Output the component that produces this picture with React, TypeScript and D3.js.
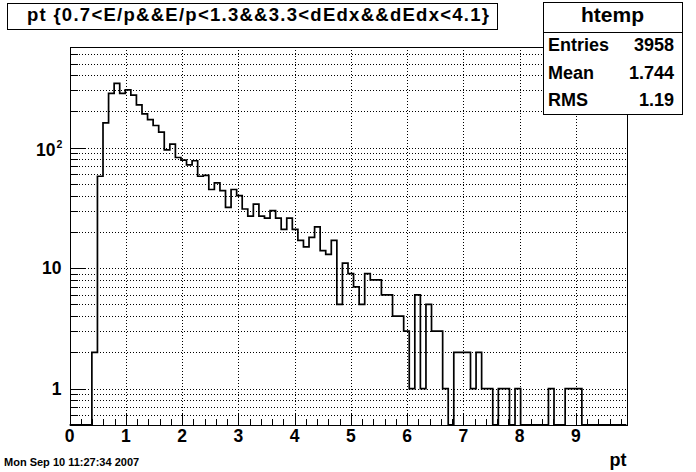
import React from "react";
import * as d3 from "d3";

// pt histogram, 100 bins from 0 to 9.9
const BIN_COUNTS = [
  0, 0, 0, 0, 2, 58, 161, 283, 342, 283,
  302, 274, 227, 191, 171, 153, 135, 96, 107, 83,
  79, 72, 78, 58, 59, 45, 51, 44, 32, 45,
  40, 31, 27, 34, 27, 26, 30, 26, 21, 26,
  21, 17, 15, 18, 22, 14, 13, 17, 5, 11,
  9, 7, 5, 9, 8, 8, 6, 6, 4, 4,
  3, 1, 6, 1, 5, 3, 3, 1, 0, 2,
  2, 2, 1, 2, 1, 1, 0, 1, 1, 0,
  1, 0, 0, 0, 0, 0, 1, 0, 0, 1,
  1, 1, 0, 0, 0, 0, 0, 0, 0, 0,
];
const X_RANGE = [0, 9.9];
const Y_RANGE = [0.5, 684];
const X_TICK_LABELS = ["0", "1", "2", "3", "4", "5", "6", "7", "8", "9"];
const Y_MAJOR_TICKS = [1, 10, 100];
const STAT_LABELS = ["Entries", "Mean", "RMS"];
const STAT_VALUES = ["3958", "1.744", "1.19"];
const TITLE = "pt {0.7<E/p&&E/p<1.3&&3.3<dEdx&&dEdx<4.1}";
const HIST_NAME = "htemp";
const X_TITLE = "pt";
const DATE_STAMP = "Mon Sep 10 11:27:34 2007";

const W = 696;
const H = 472;
const FONT = "'Liberation Sans', Arial, Helvetica, sans-serif";

export default function App() {
  const left = 0.1 * W;
  const right = 0.9 * W;
  const top = 0.1 * H;
  const bottom = 0.9 * H;

  const x = d3.scaleLinear().domain(X_RANGE).range([left, right]);
  const y = d3.scaleLog().domain(Y_RANGE).range([bottom, top]);

  const binWidth = (X_RANGE[1] - X_RANGE[0]) / BIN_COUNTS.length;
  const clampVal = (v: number) => (v > Y_RANGE[0] ? v : Y_RANGE[0]);
  const pts: [number, number][] = BIN_COUNTS.map((v, i) => [X_RANGE[0] + i * binWidth, clampVal(v)]);
  pts.push([X_RANGE[1], clampVal(BIN_COUNTS[BIN_COUNTS.length - 1])]);
  const histPath = d3
    .line<[number, number]>()
    .x((d) => x(d[0]))
    .y((d) => y(d[1]))
    .curve(d3.curveStepAfter)(pts);

  // log minor ticks
  const yMinor: number[] = [];
  for (let dec = 0.1; dec <= 100; dec *= 10) {
    for (let k = 2; k <= 9; k++) {
      const v = +(k * dec).toPrecision(3);
      if (v >= Y_RANGE[0] && v <= Y_RANGE[1]) yMinor.push(v);
    }
  }
  const yAll = [...Y_MAJOR_TICKS, ...yMinor];

  const xMajor = d3.range(0, 10).filter((v) => v <= X_RANGE[1]);
  const xMinor = d3.range(0, 50).map((k) => +(k * 0.2).toFixed(1)).filter((v) => v <= X_RANGE[1] && v % 1 !== 0);

  const px = (v: number) => Math.round(v) + 0.5;
  const majLenY = 0.03 * (right - left);
  const majLenX = 0.03 * (bottom - top);

  const statL = 0.78 * W;
  const statR = 0.98 * W;
  const statT = 2.5;
  const statB = 114;
  const headB = 32;
  const rowBase = [51, 78.5, 106];

  return (
    <div style={{ position: "fixed", left: 0, top: 0, width: W, height: H, background: "#fff" }}>
      <svg width={W} height={H} style={{ display: "block" }} fontFamily={FONT} fontWeight="bold">
        <rect width={W} height={H} fill="#fff" />

        {/* grid */}
        <g stroke="#000" strokeWidth={1} strokeDasharray="1 2" shapeRendering="crispEdges">
          {yAll.map((v) => (
            <line key={"gy" + v} x1={left} x2={right} y1={px(y(v))} y2={px(y(v))} />
          ))}
          {xMajor.filter((v) => v > 0).map((v) => (
            <line key={"gx" + v} x1={px(x(v))} x2={px(x(v))} y1={top} y2={bottom} />
          ))}
        </g>

        {/* ticks */}
        <g stroke="#000" strokeWidth={1} shapeRendering="crispEdges">
          {Y_MAJOR_TICKS.map((v) => (
            <line key={"ty" + v} x1={left} x2={left + majLenY} y1={px(y(v))} y2={px(y(v))} />
          ))}
          {yMinor.map((v) => (
            <line key={"tym" + v} x1={left} x2={left + majLenY / 2} y1={px(y(v))} y2={px(y(v))} />
          ))}
          {xMajor.map((v) => (
            <line key={"tx" + v} x1={px(x(v))} x2={px(x(v))} y1={bottom} y2={bottom - majLenX} />
          ))}
          {xMinor.map((v) => (
            <line key={"txm" + v} x1={px(x(v))} x2={px(x(v))} y1={bottom} y2={bottom - majLenX / 2} />
          ))}
        </g>

        {/* histogram */}
        <path d={histPath || ""} fill="none" stroke="#000" strokeWidth={1.7} />

        {/* frame */}
        <rect x={px(left)} y={px(top)} width={Math.round(right - left)} height={Math.round(bottom - top)} fill="none" stroke="#000" strokeWidth={1} shapeRendering="crispEdges" />

        {/* x labels */}
        {X_TICK_LABELS.map((t, i) => (
          <text key={"xl" + t} x={x(xMajor[i])} y={442} textAnchor="middle" fontSize={17.5}>
            {t}
          </text>
        ))}
        <text x={right} y={466} textAnchor="end" fontSize={18}>
          {X_TITLE}
        </text>

        {/* y labels */}
        <text x={61.5} y={y(1) + 6.4} textAnchor="end" fontSize={17.5}>1</text>
        <text x={61.5} y={y(10) + 5.5} textAnchor="end" fontSize={17.5}>10</text>
        <text x={55.5} y={y(100) + 8.5} textAnchor="end" fontSize={17.5}>10</text>
        <text x={56.5} y={y(100) + 0.5} textAnchor="start" fontSize={10.5}>2</text>

        {/* title */}
        <rect x={7.5} y={3.5} width={490} height={26} fill="#fff" stroke="#000" strokeWidth={1} shapeRendering="crispEdges" />
        <text x={27} y={21} fontSize={18.5} textLength={462} lengthAdjust="spacing">
          {TITLE}
        </text>

        {/* stats */}
        <rect x={px(statL)} y={statT} width={Math.round(statR - statL)} height={statB - statT} fill="#fff" stroke="#000" strokeWidth={1} shapeRendering="crispEdges" />
        <line x1={statL} x2={statR} y1={px(headB)} y2={px(headB)} stroke="#000" strokeWidth={1} shapeRendering="crispEdges" />
        <text x={(statL + statR) / 2} y={22} textAnchor="middle" fontSize={21}>
          {HIST_NAME}
        </text>
        {STAT_LABELS.map((l, i) => (
          <g key={l}>
            <text x={548} y={rowBase[i]} fontSize={18}>{l}</text>
            <text x={674} y={rowBase[i]} textAnchor="end" fontSize={18}>{STAT_VALUES[i]}</text>
          </g>
        ))}

        {/* date stamp */}
        <text x={4} y={466} fontSize={11}>
          {DATE_STAMP}
        </text>
      </svg>
    </div>
  );
}
